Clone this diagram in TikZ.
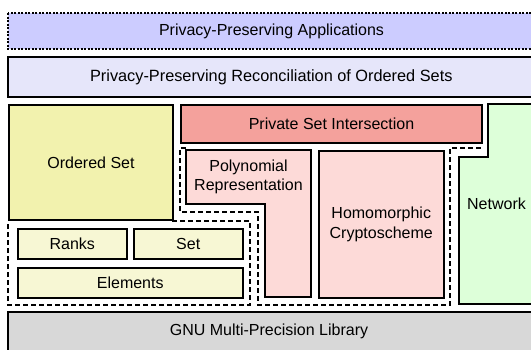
\documentclass[tikz,border=0pt]{standalone}
\usepackage{fontspec}
\setmainfont{Liberation Sans}
\usepackage{xcolor}
\usepackage{tikz}
\usetikzlibrary{positioning}

\definecolor{appsfill}{RGB}{204,204,255}
\definecolor{reconfill}{RGB}{230,230,250}
\definecolor{ordfill}{RGB}{242,242,174}
\definecolor{elemfill}{RGB}{247,247,212}
\definecolor{psifill}{RGB}{244,161,156}
\definecolor{polyfill}{RGB}{253,218,216}
\definecolor{netfill}{RGB}{221,255,217}
\definecolor{gnufill}{RGB}{216,216,216}

\begin{document}
\begin{tikzpicture}[x=1bp, y=-1bp,
  every node/.style={font=\fontsize{16bp}{19.5bp}\selectfont},
  layer/.style={draw, line width=2bp},
  box/.style={draw, line width=2bp, inner sep=0pt, anchor=north west, align=center},
  subbox/.style={draw, line width=1.5bp, inner sep=0pt, anchor=north west, fill=elemfill},
  group/.style={line width=2bp, dash pattern=on 5bp off 3bp},
  caption/.style={inner sep=0pt, align=center}
]
  \useasboundingbox (0,0) rectangle (531,349);
  \clip (0,0) rectangle (531,349);

  % application layers
  \draw[layer, fill=appsfill, dash pattern=on 2bp off 1.5bp] (8,13) rectangle (545,49);
  \node[caption] (apps) at (271.5,31) {Privacy-Preserving Applications};
  \draw[layer, fill=reconfill] (8,57) rectangle (545,97);
  \node[caption, font=\fontsize{16.3bp}{19.5bp}\selectfont] (recon) at (271.3,77) {Privacy-Preserving Reconciliation of Ordered Sets};

  % ordered set and its parts
  \node[box, fill=ordfill, minimum width=164bp, minimum height=115bp] (ordset) at (8,104) {Ordered Set};
  \draw[group] (172,221) -| (250,305) -| (8,221);
  \node[subbox, minimum width=109bp, minimum height=30bp] (ranks) at (17,228) {Ranks};
  \node[subbox, minimum width=109bp, minimum height=30bp] (set) at (133,228) {Set};
  \node[subbox, minimum width=225bp, minimum height=30bp] (elems) at (17,267) {Elements};

  % private set intersection
  \node[box, fill=psifill, minimum width=301bp, minimum height=38bp] (psi) at (180,104) {Private Set Intersection};
  \draw[group] (186,148) -- (180,148) |- (258,212) |- (450,305) |- (482,148);
  \draw[layer, line width=1.5bp, fill=polyfill] (186,150) -- (311,150) -- (311,297) -- (265,297) -- (265,204) -- (186,204) -- cycle;
  \node[caption] (poly) at (248.5,177) {Polynomial\\Representation};
  \node[box, line width=1.5bp, fill=polyfill, minimum width=125bp, minimum height=147bp] (homo) at (318,150) {Homomorphic\\Cryptoscheme};

  % network
  \draw[layer, fill=netfill] (488,104) -- (545,104) -- (545,304) -- (459,304) -- (459,157) -- (488,157) -- cycle;
  \node[caption] (net) at (496.5,204) {Network};

  % base library
  \draw[layer, fill=gnufill] (8,312) rectangle (545,360);
  \node[caption] (gmp) at (269,331) {GNU Multi-Precision Library};
\end{tikzpicture}
\end{document}
